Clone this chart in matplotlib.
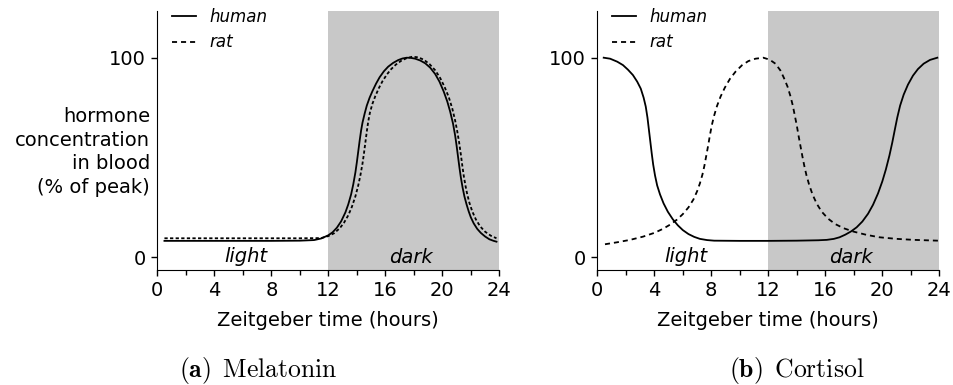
import matplotlib
matplotlib.use("Agg")
import matplotlib.pyplot as plt
from matplotlib.lines import Line2D
from matplotlib.ticker import MultipleLocator

# values (hour, % of peak)
mel_human_t = [0.5, 2, 4, 6, 8, 10, 11.0, 11.5, 12.0, 12.3, 12.6, 12.9, 13.2, 13.4, 13.6,
               13.75, 13.9, 14.0, 14.1, 14.2, 14.3, 14.4, 14.55, 14.7, 14.9, 15.1, 15.35,
               15.6, 15.9, 16.2, 16.55, 16.9, 17.2, 17.5, 17.8, 18.1, 18.45, 18.8, 19.15,
               19.5, 19.8, 20.1, 20.35, 20.55, 20.75, 20.9, 21.0, 21.1, 21.2, 21.3, 21.42,
               21.55, 21.7, 21.85, 22.0, 22.2, 22.45, 22.7, 23.0, 23.3, 23.6, 23.8]
mel_human_v = [8.2, 8.2, 8.2, 8.2, 8.2, 8.3, 8.6, 9.4, 11.0, 12.5, 14.8, 18.0, 22.5, 26.5, 31.5,
               36.5, 42.5, 47.5, 53, 58.5, 63.5, 67.5, 72, 76, 80, 83.3, 87,
               90.2, 93.2, 95.5, 97.4, 98.8, 99.6, 100, 99.9, 99.5, 98.6, 97.2, 95,
               91.8, 88, 83, 78, 73, 67, 61, 56, 50.5, 45, 40, 35,
               30.5, 26.5, 23, 20, 17, 14.2, 12.2, 10.4, 9.0, 8.2, 7.8]

mel_rat_t = [0.5, 2, 4, 6, 8, 10, 11.5, 12.0, 12.4, 12.8, 13.1, 13.4, 13.65, 13.9, 14.1,
             14.25, 14.4, 14.5, 14.6, 14.7, 14.8, 14.92, 15.1, 15.3, 15.55, 15.8, 16.1,
             16.4, 16.75, 17.1, 17.5, 17.9, 18.3, 18.7, 19.1, 19.5, 19.85, 20.15, 20.45,
             20.7, 20.9, 21.05, 21.18, 21.3, 21.4, 21.5, 21.62, 21.75, 21.9, 22.1, 22.35,
             22.65, 23.0, 23.4, 23.8]
mel_rat_v = [9.5, 9.5, 9.5, 9.5, 9.5, 9.5, 9.6, 10.6, 12.0, 14.5, 17.3, 21.0, 25.2, 30.5, 36,
             41, 47, 52, 57.5, 63, 68, 72.5, 77, 80.8, 84.8, 88.2, 91.5,
             94.2, 96.6, 98.4, 99.8, 100.5, 100.2, 99, 96.8, 93.7, 89.8, 85.5, 80.3,
             74.5, 68.5, 63, 57.5, 51.5, 46, 41, 36, 31.5, 27.3, 23, 19,
             15.5, 12.8, 10.8, 9.5]

cor_human_t = [0.45, 0.9, 1.4, 1.8, 2.15, 2.5, 2.8, 3.05, 3.25, 3.4, 3.52, 3.62, 3.72,
               3.82, 3.92, 4.05, 4.2, 4.4, 4.65, 4.95, 5.3, 5.65, 6.0, 6.4, 6.8, 7.2,
               7.7, 8.2, 10, 12, 14, 15.5, 16.1, 16.6, 17.0, 17.4, 17.8, 18.2, 18.6,
               19.0, 19.35, 19.7, 20.0, 20.25, 20.5, 20.7, 20.88, 21.05, 21.25, 21.5,
               21.8, 22.15, 22.5, 22.9, 23.35, 23.86]
cor_human_v = [100, 99.5, 98, 96.3, 94, 91.3, 88, 84.5, 80, 75.5, 70, 64, 58,
               52, 46.5, 41, 36, 31.5, 27, 22.8, 19, 16, 13.6, 11.6, 10.2, 9.2,
               8.6, 8.3, 8.2, 8.2, 8.3, 8.5, 8.7, 9.2, 10.0, 11.3, 12.9, 15.0, 17.9,
               21.8, 26.3, 32, 38, 44, 51, 57.5, 64, 70, 76, 81.5,
               86.5, 91, 94.3, 97, 98.9, 100]

cor_rat_t = [0.54, 1.4, 2.3, 3.2, 4.0, 4.6, 5.1, 5.6, 6.0, 6.4, 6.75, 7.0, 7.2, 7.38,
             7.52, 7.65, 7.78, 7.9, 8.03, 8.2, 8.4, 8.65, 8.95, 9.3, 9.7, 10.15, 10.6,
             11.1, 11.65, 12.1, 12.5, 12.85, 13.1, 13.35, 13.55, 13.72, 13.86, 14.0,
             14.12, 14.25, 14.38, 14.52, 14.68, 14.86, 15.1, 15.4, 15.75, 16.2, 16.7,
             17.3, 18.0, 18.9, 19.8, 21.0, 22.2, 23.9]
cor_rat_v = [6.5, 7.5, 8.7, 10.3, 12.2, 14.2, 16.3, 18.9, 21.6, 25.0, 29, 33, 37, 41.5,
             46, 51, 56, 61, 66, 71, 75.8, 80.5, 85, 89.3, 93, 96.2, 98.3,
             99.5, 100, 99, 97, 93.6, 89.8, 85.5, 80.8, 76, 71, 66,
             61, 56, 51, 46, 41, 36.5, 31.5, 26.8, 22.8, 19.3, 16.6,
             14.5, 12.8, 11.2, 10, 9.2, 8.7, 8.3]

xticks = [0, 4, 8, 12, 16, 20, 24]
yticks = [0, 100]
dark_start, dark_end = 12, 24
captions = [r"$\mathbf{(a)}\ \,\mathrm{Melatonin}$", r"$\mathbf{(b)}\ \,\mathrm{Cortisol}$"]

plt.rcParams['font.size'] = 14
plt.rcParams['mathtext.fontset'] = 'cm'

fig = plt.figure(figsize=(9.54, 3.85), dpi=100)
ax1 = fig.add_axes([0.1649, 0.2987, 0.3585, 0.6727])
ax2 = fig.add_axes([0.6261, 0.2987, 0.3585, 0.6727])

long_dash = (0, (2.8, 2.2))
short_dash = (0, (1.8, 1.3))

ax1.plot(mel_human_t, mel_human_v, color='k', lw=1.3)
ax1.plot(mel_rat_t, mel_rat_v, color='k', lw=1.3, ls=short_dash)
ax2.plot(cor_human_t, cor_human_v, color='k', lw=1.3)
ax2.plot(cor_rat_t, cor_rat_v, color='k', lw=1.3, ls=long_dash)

handles = [Line2D([], [], color='k', lw=1.3),
           Line2D([], [], color='k', lw=1.3, ls=long_dash)]

for ax in (ax1, ax2):
    ax.axvspan(dark_start, dark_end, color='#c8c8c8', lw=0, zorder=0)
    ax.set_xlim(0, 24)
    ax.set_ylim(-6.4, 123.4)
    ax.set_xticks(xticks)
    ax.xaxis.set_minor_locator(MultipleLocator(2))
    ax.set_yticks(yticks)
    ax.tick_params(which='major', length=4.5, width=1)
    ax.tick_params(which='minor', length=3.5, width=1)
    ax.spines['top'].set_visible(False)
    ax.spines['right'].set_visible(False)
    ax.set_xlabel('Zeitgeber time (hours)', labelpad=8)
    ax.text(6.2, -2.2, 'light', style='italic', ha='center', va='baseline')
    ax.text(17.8, -3, 'dark', style='italic', ha='center', va='baseline')
    ax.legend(handles, ['human', 'rat'], loc='upper left', bbox_to_anchor=(0, 1.07),
              frameon=False, prop={'style': 'italic', 'size': 12},
              handlelength=1.4, handletextpad=0.8, labelspacing=0.45)

ax1.set_ylabel('hormone\nconcentration\nin blood\n(% of peak)', rotation=0,
               ha='right', va='center', multialignment='right', linespacing=1.3)
ax1.yaxis.set_label_coords(-0.021, 0.456)

fig.text(258 / 954, 1 - 371 / 385, captions[0], ha='center', va='center', fontsize=18.5)
fig.text(797 / 954, 1 - 371 / 385, captions[1], ha='center', va='center', fontsize=18.5)

fig.savefig('out.png', dpi=100)
